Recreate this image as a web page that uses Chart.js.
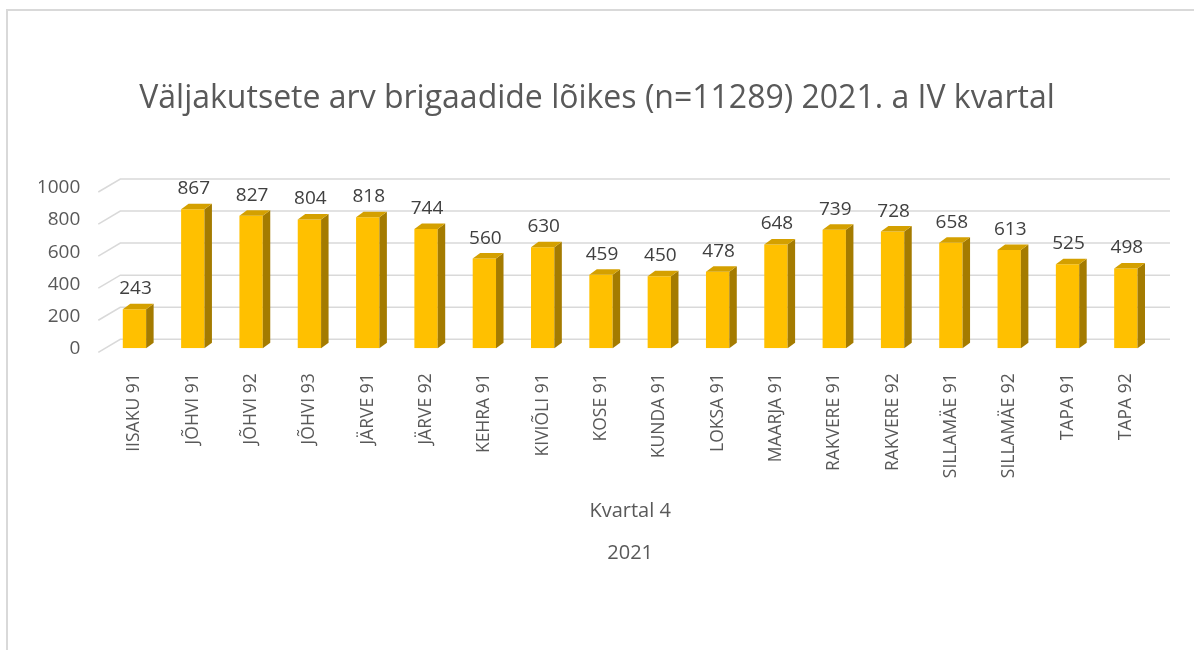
<!DOCTYPE html>
<html>
<head>
<meta charset="utf-8">
<script src="https://cdn.jsdelivr.net/npm/chart.js@4.4.1/dist/chart.umd.min.js"></script>
<style>
html, body { margin: 0; padding: 0; background: #fff; }
#wrap { width: 1194px; height: 650px; }
</style>
</head>
<body>
<div id="wrap"><canvas id="grafik" width="1194" height="650"></canvas></div>
<script>
// andmed
const brigaadid = ['IISAKU 91', 'JÕHVI 91', 'JÕHVI 92', 'JÕHVI 93', 'JÄRVE 91', 'JÄRVE 92', 'KEHRA 91', 'KIVIÕLI 91', 'KOSE 91',
    'KUNDA 91', 'LOKSA 91', 'MAARJA 91', 'RAKVERE 91', 'RAKVERE 92', 'SILLAMÄE 91', 'SILLAMÄE 92', 'TAPA 91', 'TAPA 92'];
const valjakutsed = [243, 867, 827, 804, 818, 744, 560, 630, 459, 450, 478, 648, 739, 728, 658, 613, 525, 498];
const yTicks = [0, 200, 400, 600, 800, 1000];
const pealkiri = 'Väljakutsete arv brigaadide lõikes (n=11289) 2021. a IV kvartal';
const xPealkiri = ['Kvartal 4', '2021'];

Chart.defaults.font.family = "'Open Sans', sans-serif";

// 3D tulpade ja taustajoonte joonistamine
const ruumiline = {
    id: 'ruumiline',
    beforeDraw(chart) {
        const ctx = chart.ctx;
        ctx.save();
        ctx.fillStyle = '#ffffff';
        ctx.fillRect(0, 0, chart.width, chart.height);
        ctx.strokeStyle = '#d9d9d9';
        ctx.lineWidth = 2;
        ctx.beginPath();
        ctx.moveTo(7, chart.height);
        ctx.lineTo(7, 10);
        ctx.lineTo(chart.width, 10);
        ctx.stroke();
        ctx.restore();
    },
    beforeDatasetsDraw(chart) {
        const ctx = chart.ctx;
        const a = chart.chartArea;
        const y = chart.scales.y;
        ctx.save();
        ctx.strokeStyle = '#d9d9d9';
        ctx.lineWidth = 1.5;
        yTicks.forEach(function (v) {
            const py = y.getPixelForValue(v);
            ctx.beginPath();
            ctx.moveTo(a.left - 7, py + 4);
            ctx.lineTo(a.left + 15, py - 9);
            ctx.lineTo(a.right + 15, py - 9);
            ctx.stroke();
        });
        ctx.restore();
    },
    afterDatasetsDraw(chart) {
        const ctx = chart.ctx;
        const dx = 7.5, dy = 5.5;
        const meta = chart.getDatasetMeta(0);
        ctx.save();
        meta.data.forEach(function (bar, i) {
            const left = bar.x - bar.width / 2;
            const right = bar.x + bar.width / 2;
            // kylg
            ctx.fillStyle = '#a47b00';
            ctx.beginPath();
            ctx.moveTo(right, bar.y);
            ctx.lineTo(right + dx, bar.y - dy);
            ctx.lineTo(right + dx, bar.base - dy);
            ctx.lineTo(right, bar.base);
            ctx.closePath();
            ctx.fill();
            // pealmine
            ctx.fillStyle = '#d4a000';
            ctx.beginPath();
            ctx.moveTo(left, bar.y);
            ctx.lineTo(left + dx, bar.y - dy);
            ctx.lineTo(right + dx, bar.y - dy);
            ctx.lineTo(right, bar.y);
            ctx.closePath();
            ctx.fill();
            // vaartus
            ctx.fillStyle = '#404040';
            ctx.font = "19px 'Open Sans', sans-serif";
            ctx.textAlign = 'center';
            ctx.textBaseline = 'alphabetic';
            ctx.fillText(String(valjakutsed[i]), bar.x + 1, bar.y - 15);
        });
        ctx.restore();
    }
};

let grafik = new Chart(document.getElementById('grafik'), {
    type: 'bar',
    data: {
        labels: brigaadid,
        datasets: [{
            data: valjakutsed,
            backgroundColor: '#ffc000',
            borderWidth: 0,
            categoryPercentage: 1,
            barPercentage: 0.4
        }]
    },
    options: {
        responsive: false,
        animation: false,
        devicePixelRatio: 1,
        layout: {
            padding: { top: 80, right: 39, bottom: 76, left: 39 }
        },
        plugins: {
            legend: { display: false },
            tooltip: { enabled: false },
            title: {
                display: true,
                text: pealkiri,
                color: '#595959',
                font: { size: 32, weight: 'normal' },
                padding: { top: 0, bottom: 69.6 }
            }
        },
        scales: {
            x: {
                grid: { display: false },
                border: { display: false },
                ticks: {
                    color: '#595959',
                    font: { size: 17.5 },
                    minRotation: 90,
                    maxRotation: 90,
                    padding: 17,
                    autoSkip: false
                },
                title: {
                    display: true,
                    text: xPealkiri,
                    color: '#595959',
                    font: { size: 20, lineHeight: 2.1 },
                    padding: { top: 0, bottom: 0 }
                },
                afterFit: function (scale) {
                    scale.height = 225.7;
                }
            },
            y: {
                min: 0,
                max: 1000,
                grid: { display: false },
                border: { display: false },
                ticks: {
                    color: '#595959',
                    font: { size: 19 },
                    padding: 17,
                    callback: function (v) { return String(v); }
                },
                afterBuildTicks: function (scale) {
                    scale.ticks = yTicks.map(function (v) { return { value: v }; });
                },
                afterFit: function (scale) {
                    scale.width = 66.3;
                }
            }
        }
    },
    plugins: [ruumiline]
});
</script>
</body>
</html>
